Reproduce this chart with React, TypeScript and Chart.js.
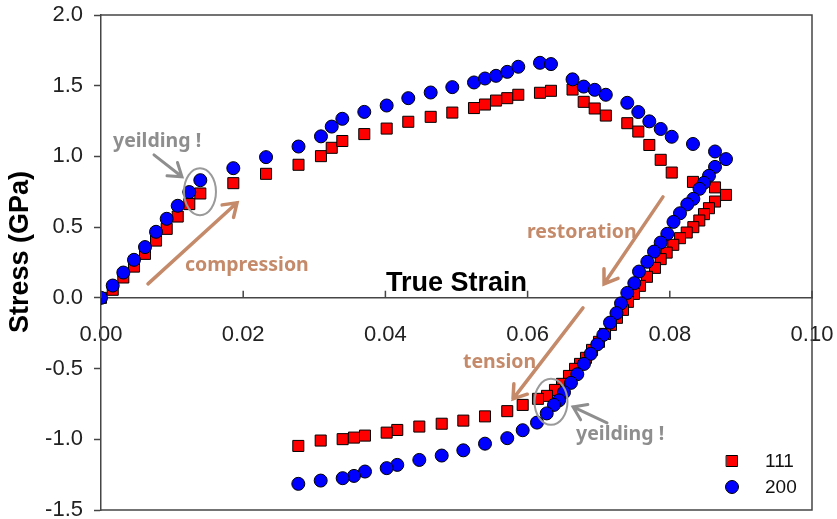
import React, { useEffect, useRef } from 'react';
import { Chart, registerables } from 'chart.js';

Chart.register(...registerables);

// ---- data ----
const seriesNames = ['111', '200'];

const strain111 = [
  0, 0.00165, 0.00314, 0.00464, 0.00619, 0.00774, 0.00924, 0.01079, 0.01242, 0.01397,
  0.01861, 0.02321, 0.02778, 0.03094, 0.03245, 0.03394, 0.03703, 0.04018, 0.04322, 0.04637,
  0.04941, 0.05246, 0.05401, 0.05556, 0.05714, 0.05869, 0.06174, 0.06329, 0.06632, 0.06789,
  0.06944, 0.071, 0.07402, 0.07557, 0.07712, 0.07872, 0.08027, 0.08326, 0.08636, 0.0879,
  0.08636, 0.08551, 0.08481, 0.08415, 0.08331, 0.08238, 0.08143, 0.08049, 0.07956, 0.07872,
  0.07792, 0.07679, 0.07581, 0.07496, 0.07412, 0.07342, 0.07257, 0.07173, 0.07089, 0.07004,
  0.06906, 0.06821, 0.06737, 0.06667, 0.06582, 0.06484, 0.06385, 0.06273, 0.06146, 0.05931,
  0.05714, 0.05401, 0.05096, 0.04792, 0.04477, 0.04167, 0.04018, 0.03713, 0.03558, 0.03399,
  0.0309, 0.02775,
];
const stress111 = [
  0, 0.057, 0.144, 0.221, 0.311, 0.405, 0.488, 0.575, 0.663, 0.738,
  0.811, 0.877, 0.941, 1.002, 1.061, 1.109, 1.158, 1.197, 1.245, 1.28,
  1.31, 1.342, 1.367, 1.395, 1.412, 1.436, 1.45, 1.464, 1.473, 1.386,
  1.339, 1.289, 1.235, 1.176, 1.081, 0.976, 0.886, 0.82, 0.781, 0.728,
  0.681, 0.634, 0.592, 0.547, 0.5, 0.462, 0.422, 0.375, 0.32, 0.274,
  0.212, 0.149, 0.085, 0.028, -0.028, -0.085, -0.141, -0.191, -0.255, -0.311,
  -0.368, -0.424, -0.467, -0.502, -0.552, -0.608, -0.651, -0.693, -0.714, -0.757,
  -0.801, -0.838, -0.868, -0.89, -0.91, -0.934, -0.953, -0.974, -0.988, -0.999,
  -1.009, -1.047,
];

const strain200 = [
  0, 0.00165, 0.00314, 0.00464, 0.00619, 0.00774, 0.00924, 0.01079, 0.01242, 0.01397,
  0.01861, 0.02321, 0.02778, 0.03094, 0.03245, 0.03394, 0.03703, 0.04018, 0.04322, 0.04637,
  0.04941, 0.05246, 0.05401, 0.05556, 0.05714, 0.05869, 0.06174, 0.06329, 0.06632, 0.06789,
  0.06944, 0.071, 0.07402, 0.07557, 0.07712, 0.07872, 0.08027, 0.08326, 0.08636, 0.0879,
  0.08636, 0.08551, 0.08481, 0.08418, 0.08331, 0.08246, 0.08143, 0.08052, 0.07965, 0.07872,
  0.07778, 0.07684, 0.07567, 0.07501, 0.07402, 0.07314, 0.0725, 0.07159, 0.07065, 0.0698,
  0.06887, 0.06793, 0.06699, 0.0661, 0.06512, 0.06442, 0.06371, 0.06269, 0.06132, 0.05931,
  0.05714, 0.05401, 0.05096, 0.04792, 0.04477, 0.04167, 0.04018, 0.03713, 0.03558, 0.03399,
  0.0309, 0.02775,
];
const stress200 = [
  0, 0.087, 0.179, 0.269, 0.359, 0.467, 0.559, 0.651, 0.748, 0.832,
  0.917, 0.995, 1.07, 1.142, 1.211, 1.266, 1.315, 1.36, 1.412, 1.452,
  1.49, 1.523, 1.551, 1.57, 1.598, 1.634, 1.662, 1.653, 1.545, 1.494,
  1.471, 1.436, 1.379, 1.314, 1.248, 1.194, 1.139, 1.088, 1.035, 0.981,
  0.926, 0.863, 0.813, 0.771, 0.7, 0.661, 0.598, 0.537, 0.453, 0.391,
  0.327, 0.255, 0.186, 0.104, 0.035, -0.039, -0.108, -0.175, -0.262, -0.329,
  -0.396, -0.467, -0.54, -0.601, -0.668, -0.725, -0.757, -0.817, -0.882, -0.936,
  -0.992, -1.031, -1.078, -1.115, -1.146, -1.181, -1.204, -1.228, -1.259, -1.275,
  -1.292, -1.315,
];

const xTicks = [0, 0.02, 0.04, 0.06, 0.08, 0.1];
const yTicks = [-1.5, -1.0, -0.5, 0, 0.5, 1.0, 1.5, 2.0];

const xTitle = 'True Strain';
const yTitle = 'Stress (GPa)';

// ---- styling ----
const AXIS_FONT = "'Liberation Sans', Arial, sans-serif";
const NOTE_FONT = "'Noto Sans', 'Liberation Sans', Arial, sans-serif";
const AXIS_COLOR = '#454545';
const BROWN = '#C48A69';
const GRAY = '#8E8E8E';

// annotations (anchored in data coordinates)
const notes = [
  { text: 'yeilding !', x: 0.00169, y: 1.068, color: GRAY },
  { text: 'compression', x: 0.01181, y: 0.191, color: BROWN },
  { text: 'restoration', x: 0.05992, y: 0.424, color: BROWN },
  { text: 'tension', x: 0.05091, y: -0.495, color: BROWN },
  { text: 'yeilding !', x: 0.06681, y: -1.004, color: GRAY },
];
const arrows = [
  { x1: 0.00745, y1: 1.011, x2: 0.01139, y2: 0.856, color: GRAY, w: 3 },
  { x1: 0.00661, y1: 0.099, x2: 0.01913, y2: 0.672, color: BROWN, w: 3.5 },
  { x1: 0.07904, y1: 0.714, x2: 0.07075, y2: 0.099, color: BROWN, w: 3.5 },
  { x1: 0.06779, y1: -0.071, x2: 0.05795, y2: -0.714, color: BROWN, w: 3.5 },
  { x1: 0.07117, y1: -0.884, x2: 0.06639, y2: -0.771, color: GRAY, w: 3 },
];
const ellipses = [
  { x: 0.01392, y: 0.75, rx: 16, ry: 23.5 },
  { x: 0.06329, y: -0.735, rx: 16.5, ry: 23 },
];

const zip = (xs: number[], ys: number[]) => xs.map((x, i) => ({ x, y: ys[i] }));

const zeroPadding = (s: any) => {
  s.paddingLeft = 0;
  s.paddingRight = 0;
  s.paddingTop = 0;
  s.paddingBottom = 0;
};

const overlayPlugin = {
  id: 'overlay',
  afterDatasetsDraw(chart: any) {
    const { ctx, chartArea: a, scales } = chart;
    const xs = scales.x;
    const ys = scales.y;
    ctx.save();

    // frame (top, right, bottom)
    ctx.strokeStyle = AXIS_COLOR;
    ctx.lineWidth = 1.5;
    ctx.beginPath();
    ctx.moveTo(a.left, a.top);
    ctx.lineTo(a.right, a.top);
    ctx.lineTo(a.right, a.bottom);
    ctx.lineTo(a.left, a.bottom);
    ctx.stroke();

    // x tick marks pointing up from the zero line
    const y0 = ys.getPixelForValue(0);
    ctx.beginPath();
    for (const t of xTicks) {
      const px = xs.getPixelForValue(t);
      ctx.moveTo(px, y0);
      ctx.lineTo(px, y0 - 7);
    }
    ctx.stroke();

    // axis titles
    ctx.fillStyle = '#000';
    ctx.font = `bold 27px ${AXIS_FONT}`;
    ctx.textAlign = 'center';
    ctx.textBaseline = 'alphabetic';
    ctx.fillText(xTitle, xs.getPixelForValue(0.05), y0 - 7);

    ctx.save();
    ctx.translate(28, 252);
    ctx.rotate(-Math.PI / 2);
    ctx.fillText(yTitle, 0, 0);
    ctx.restore();

    // ellipses
    ctx.strokeStyle = '#9A9A9A';
    ctx.lineWidth = 2;
    for (const e of ellipses) {
      ctx.beginPath();
      ctx.ellipse(xs.getPixelForValue(e.x), ys.getPixelForValue(e.y), e.rx, e.ry, 0, 0, Math.PI * 2);
      ctx.stroke();
    }

    // arrows
    ctx.lineCap = 'round';
    for (const ar of arrows) {
      const x1 = xs.getPixelForValue(ar.x1);
      const y1 = ys.getPixelForValue(ar.y1);
      const x2 = xs.getPixelForValue(ar.x2);
      const y2 = ys.getPixelForValue(ar.y2);
      const ang = Math.atan2(y2 - y1, x2 - x1);
      const hl = 15;
      ctx.strokeStyle = ar.color;
      ctx.lineWidth = ar.w;
      ctx.beginPath();
      ctx.moveTo(x1, y1);
      ctx.lineTo(x2, y2);
      ctx.moveTo(x2 - hl * Math.cos(ang - 0.6), y2 - hl * Math.sin(ang - 0.6));
      ctx.lineTo(x2, y2);
      ctx.lineTo(x2 - hl * Math.cos(ang + 0.6), y2 - hl * Math.sin(ang + 0.6));
      ctx.stroke();
    }

    // notes
    ctx.font = `bold 19.5px ${NOTE_FONT}`;
    ctx.textAlign = 'left';
    ctx.textBaseline = 'alphabetic';
    for (const n of notes) {
      ctx.fillStyle = n.color;
      ctx.fillText(n.text, xs.getPixelForValue(n.x), ys.getPixelForValue(n.y));
    }

    // legend
    const ds = chart.data.datasets;
    const lx = a.right - 80;
    const rows = [a.bottom - 49, a.bottom - 23];
    ctx.font = `19px ${AXIS_FONT}`;
    ctx.textBaseline = 'middle';
    rows.forEach((ry: number, i: number) => {
      const d = ds[i];
      ctx.fillStyle = d.backgroundColor;
      ctx.strokeStyle = '#000';
      ctx.lineWidth = 1;
      ctx.beginPath();
      if (d.pointStyle === 'rect') {
        ctx.rect(lx - 5.5, ry - 5.5, 11, 11);
      } else {
        ctx.arc(lx, ry, 6.5, 0, Math.PI * 2);
      }
      ctx.fill();
      ctx.stroke();
      ctx.fillStyle = '#111';
      ctx.fillText(d.label, a.right - 47, ry + 1);
    });

    ctx.restore();
  },
};

export default function App() {
  const ref = useRef<HTMLCanvasElement | null>(null);

  useEffect(() => {
    if (!ref.current) return;
    const chart = new Chart(ref.current, {
      type: 'scatter',
      data: {
        datasets: [
          {
            label: seriesNames[0],
            data: zip(strain111, stress111),
            pointStyle: 'rect',
            pointRadius: 7.8,
            backgroundColor: '#FF0000',
            borderColor: '#000',
            borderWidth: 1,
            order: 2,
          },
          {
            label: seriesNames[1],
            data: zip(strain200, stress200),
            pointStyle: 'circle',
            pointRadius: 6.5,
            backgroundColor: '#0000FF',
            borderColor: '#000',
            borderWidth: 1,
            order: 1,
          },
        ],
      },
      plugins: [overlayPlugin],
      options: {
        responsive: false,
        animation: false,
        layout: { padding: { left: 0, right: 25, top: 15, bottom: 9 } },
        plugins: { legend: { display: false }, tooltip: { enabled: false } },
        scales: {
          x: {
            type: 'linear',
            position: { y: 0 },
            min: xTicks[0],
            max: xTicks[xTicks.length - 1],
            afterBuildTicks: (s: any) => {
              s.ticks = xTicks.map((v) => ({ value: v }));
            },
            afterFit: zeroPadding,
            grid: { display: true, drawOnChartArea: false, drawTicks: false },
            border: { display: true, color: AXIS_COLOR, width: 1.5 },
            ticks: {
              padding: 24,
              color: '#222',
              font: { family: AXIS_FONT, size: 22 },
              maxRotation: 0,
              autoSkip: false,
              callback: (v: any) => Number(v).toFixed(2),
            },
          },
          y: {
            type: 'linear',
            position: 'left',
            min: yTicks[0],
            max: yTicks[yTicks.length - 1],
            afterBuildTicks: (s: any) => {
              s.ticks = yTicks.map((v) => ({ value: v }));
            },
            afterFit: (s: any) => {
              s.width = 101;
              zeroPadding(s);
            },
            grid: { display: true, drawOnChartArea: false, drawTicks: true, tickLength: 7, color: AXIS_COLOR, tickWidth: 1.5 },
            border: { display: true, color: AXIS_COLOR, width: 1.5 },
            ticks: {
              padding: 11,
              color: '#222',
              font: { family: AXIS_FONT, size: 22 },
              autoSkip: false,
              callback: (v: any) => Number(v).toFixed(1),
            },
          },
        },
      },
    });
    return () => chart.destroy();
  }, []);

  return (
    <div style={{ position: 'fixed', left: 0, top: 0, width: 837, height: 519, background: '#fff' }}>
      <canvas ref={ref} width={837} height={519} style={{ display: 'block' }} />
    </div>
  );
}
